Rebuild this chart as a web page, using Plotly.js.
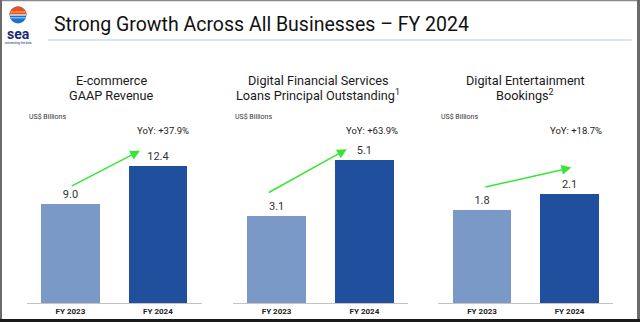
<!DOCTYPE html>
<html>
<head>
<meta charset="utf-8">
<script src="https://cdn.plot.ly/plotly-3.0.1.min.js"></script>
<style>
  html, body { margin: 0; padding: 0; background: #ffffff; }
  #chart { width: 640px; height: 322px; }
</style>
</head>
<body>
<div id="chart"></div>
<script>
// ---- data ----
const categories = ['FY 2023', 'FY 2024'];
const ecommerceRevenue = [9.0, 12.4];
const dfsLoans = [3.1, 5.1];
const entertainmentBookings = [1.8, 2.1];
const yoyLabels = ['YoY: +37.9%', 'YoY: +63.9%', 'YoY: +18.7%'];
const panelTitleLine1 = ['E-commerce', 'Digital Financial Services', 'Digital Entertainment'];
const panelTitleLine2 = ['GAAP Revenue', 'Loans Principal Outstanding<sup>1</sup>', 'Bookings<sup>2</sup>'];
const unitLabel = 'US$ Billions';
const mainTitle = 'Strong Growth Across All Businesses \u2013 FY 2024';
const barColors = ['#7b99c7', '#1f4f9d'];

const W = 640, H = 322;
const px = v => v / W;
const py = v => 1 - v / H;

const seriesList = [ecommerceRevenue, dfsLoans, entertainmentBookings];
const axisSuffix = ['', '2', '3'];

const traces = seriesList.map((vals, i) => ({
  type: 'bar',
  x: categories,
  y: vals,
  xaxis: 'x' + axisSuffix[i],
  yaxis: 'y' + axisSuffix[i],
  width: 0.667,
  marker: { color: barColors, line: { width: 0 } },
  text: vals.map(v => v.toFixed(1)),
  textposition: 'outside',
  textfont: { family: 'Roboto, Arial, sans-serif', size: 11, color: '#333333' },
  cliponaxis: false,
  hoverinfo: 'skip',
  showlegend: false
}));

const yDomain = [0.058, 0.8137];
const xDomains = [[26.7 / W, 201.7 / W], [232.7 / W, 408.3 / W], [438.3 / W, 613.3 / W]];
const yRanges = [[0, 22.0], [0, 8.67], [0, 4.68]];

const xAxisBase = {
  type: 'category',
  range: [-0.5, 1.5],
  showgrid: false,
  zeroline: false,
  showline: true,
  linecolor: '#c3c3c3',
  linewidth: 1,
  ticks: '',
  ticklen: 0,
  tickfont: { family: 'Roboto, Arial, sans-serif', size: 8, color: '#222222', weight: 700 },
  fixedrange: true
};
const yAxisBase = {
  showgrid: false,
  zeroline: false,
  showline: false,
  showticklabels: false,
  ticks: '',
  fixedrange: true
};

const layout = {
  width: W,
  height: H,
  margin: { l: 0, r: 0, t: 0, b: 0, pad: 0 },
  paper_bgcolor: '#ffffff',
  plot_bgcolor: 'rgba(0,0,0,0)',
  font: { family: 'Roboto, Arial, sans-serif', color: '#222222' },
  bargap: 0,
  annotations: [],
  shapes: []
};

for (let i = 0; i < 3; i++) {
  layout['xaxis' + axisSuffix[i]] = Object.assign({}, xAxisBase, {
    domain: xDomains[i], anchor: 'y' + axisSuffix[i]
  });
  layout['yaxis' + axisSuffix[i]] = Object.assign({}, yAxisBase, {
    domain: yDomain, range: yRanges[i], anchor: 'x' + axisSuffix[i]
  });
}

// panel text
const titleCenters = [111, 318, 525];
const unitLefts = [27, 233, 439];
const yoyCenters = [163, 372, 576];
for (let i = 0; i < 3; i++) {
  layout.annotations.push({
    xref: 'paper', yref: 'paper', x: px(titleCenters[i]), y: py(80.7),
    xanchor: 'center', yanchor: 'middle', showarrow: false,
    text: panelTitleLine1[i], font: { family: 'Roboto, Arial, sans-serif', size: 12.7, color: '#1a1a1a' }
  });
  layout.annotations.push({
    xref: 'paper', yref: 'paper', x: px(titleCenters[i]), y: py(95.5),
    xanchor: 'center', yanchor: 'middle', showarrow: false,
    text: panelTitleLine2[i], font: { family: 'Roboto, Arial, sans-serif', size: 12.7, color: '#1a1a1a' }
  });
  layout.annotations.push({
    xref: 'paper', yref: 'paper', x: px(unitLefts[i]), y: py(116.7),
    xanchor: 'left', yanchor: 'middle', showarrow: false,
    text: unitLabel, font: { family: 'Roboto, Arial, sans-serif', size: 7, color: '#333333' }
  });
  layout.annotations.push({
    xref: 'paper', yref: 'paper', x: px(yoyCenters[i]), y: py(130),
    xanchor: 'center', yanchor: 'middle', showarrow: false,
    text: yoyLabels[i], font: { family: 'Roboto, Arial, sans-serif', size: 9.5, color: '#222222' }
  });
}

// growth arrows (axis coordinates)
const arrowGreen = '#36e636';
const arrows = [
  { s: '', ax: 0.0, ay: 10.55, x: 0.795, y: 13.8 },
  { s: '2', ax: -0.106, ay: 3.92, x: 0.80, y: 5.49 },
  { s: '3', ax: 0.02, ay: 2.23, x: 1.02, y: 2.61 }
];
arrows.forEach(a => {
  layout.annotations.push({
    xref: 'x' + a.s, yref: 'y' + a.s, axref: 'x' + a.s, ayref: 'y' + a.s,
    x: a.x, y: a.y, ax: a.ax, ay: a.ay,
    showarrow: true, arrowhead: 2, arrowsize: 1.3, arrowwidth: 1.5,
    arrowcolor: arrowGreen, text: ''
  });
});

// main title
layout.annotations.push({
  xref: 'paper', yref: 'paper', x: px(52), y: py(24),
  xanchor: 'left', yanchor: 'middle', showarrow: false,
  text: mainTitle, font: { family: 'Roboto, Arial, sans-serif', size: 19.5, color: '#111111' }
});
// logo text
layout.annotations.push({
  xref: 'paper', yref: 'paper', x: px(18), y: py(33.5),
  xanchor: 'center', yanchor: 'middle', showarrow: false,
  text: '<b>sea</b>', font: { family: 'Roboto, Arial, sans-serif', size: 14, color: '#1b2a78' }
});
layout.annotations.push({
  xref: 'paper', yref: 'paper', x: px(18), y: py(42.5),
  xanchor: 'center', yanchor: 'middle', showarrow: false,
  text: 'connecting the dots', font: { family: 'Roboto, Arial, sans-serif', size: 3, color: '#1b2a78' }
});

// title underline
layout.shapes.push({
  type: 'line', xref: 'paper', yref: 'paper',
  x0: px(48), x1: px(632), y0: py(40), y1: py(40),
  line: { color: '#b7c9e6', width: 1 }
});
// logo ball
(function () {
  const cx = 18, cy = 15, r = 8.5;
  layout.shapes.push({
    type: 'circle', xref: 'paper', yref: 'paper',
    x0: px(cx - r), x1: px(cx + r), y0: py(cy + r), y1: py(cy - r),
    fillcolor: '#1f6fd1', line: { width: 0 }
  });
  let pts = [];
  for (let k = 0; k <= 24; k++) {
    const t = Math.PI + k * Math.PI / 24;
    pts.push([cx + r * Math.cos(t), cy + r * Math.sin(t)]);
  }
  const d = 'M ' + pts.map(p => px(p[0]).toFixed(5) + ',' + py(p[1]).toFixed(5)).join(' L ') + ' Z';
  layout.shapes.push({ type: 'path', xref: 'paper', yref: 'paper', path: d, fillcolor: '#ee4d2d', line: { width: 0 } });
  layout.shapes.push({ type: 'line', xref: 'paper', yref: 'paper', x0: px(cx - r + 1), x1: px(cx + r - 1), y0: py(cy - 3), y1: py(cy - 3), line: { color: '#f7a330', width: 1.5 } });
  layout.shapes.push({ type: 'line', xref: 'paper', yref: 'paper', x0: px(cx - r + 0.3), x1: px(cx + r - 0.3), y0: py(cy), y1: py(cy), line: { color: '#ffffff', width: 1.2 } });
  layout.shapes.push({ type: 'line', xref: 'paper', yref: 'paper', x0: px(cx - r + 0.8), x1: px(cx + r - 0.8), y0: py(cy + 2.8), y1: py(cy + 2.8), line: { color: '#8fd0ff', width: 1.2 } });
})();

// outer frame
layout.shapes.push({ type: 'line', xref: 'paper', yref: 'paper', x0: 0, x1: 1, y0: py(0.5), y1: py(0.5), line: { color: '#8a8a8a', width: 1.5 } });
layout.shapes.push({ type: 'line', xref: 'paper', yref: 'paper', x0: px(1), x1: px(1), y0: 0, y1: 1, line: { color: '#6a6a6a', width: 2 } });
layout.shapes.push({ type: 'line', xref: 'paper', yref: 'paper', x0: px(638.5), x1: px(638.5), y0: 0, y1: 1, line: { color: '#6a6a6a', width: 3 } });
layout.shapes.push({ type: 'line', xref: 'paper', yref: 'paper', x0: 0, x1: 1, y0: py(320.5), y1: py(320.5), line: { color: '#1a1a1a', width: 3 } });

Plotly.newPlot('chart', traces, layout, { staticPlot: true, displayModeBar: false });
</script>
</body>
</html>
